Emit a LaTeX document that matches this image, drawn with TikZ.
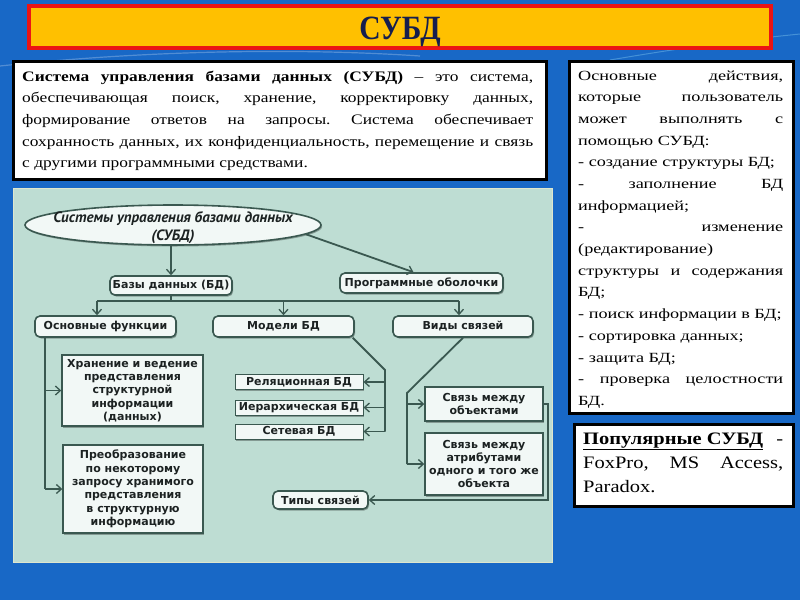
\documentclass[tikz,border=0pt]{standalone}
\usepackage{fontspec}
\usepackage{graphicx}
\setmainfont{Liberation Serif}
\newfontfamily\leftfont[FakeStretch=1.2]{Liberation Serif}
\newfontfamily\rightfont[FakeStretch=1.3]{Liberation Serif}
\newfontfamily\popfont[FakeStretch=1.17]{Liberation Serif}
\newfontfamily\titlefont[FakeStretch=0.87]{Liberation Serif}
\newfontfamily\djfont{DejaVu Sans}
\newfontfamily\ptfont{PT Sans}
\usetikzlibrary{arrows.meta,shapes.geometric,calc,shadows}
\frenchspacing
\definecolor{bgblue}{RGB}{24,104,198}
\definecolor{titlefill}{RGB}{255,192,0}
\definecolor{titlered}{RGB}{235,20,20}
\definecolor{titletext}{RGB}{22,30,78}
\definecolor{panel}{RGB}{190,221,211}
\definecolor{paneledge}{RGB}{222,230,205}
\definecolor{boxfill}{RGB}{242,248,246}
\definecolor{edge}{RGB}{58,88,80}
\definecolor{txt}{RGB}{28,34,34}
\tikzset{
  dfont/.style={font=\djfont\bfseries\fontsize{11pt}{13.3pt}\selectfont, text=txt},
  boxshadow/.style={drop shadow={shadow xshift=1.2pt, shadow yshift=-1.5pt, fill=black, opacity=0.3}},
  rbox/.style={dfont, draw=edge, line width=1.6pt, fill=boxfill, rounded corners=5pt, inner sep=0pt, align=center, boxshadow},
  sbox/.style={dfont, draw=edge, line width=1.4pt, fill=boxfill, inner sep=0pt, align=center, boxshadow},
  conn/.style={draw=edge, line width=1.8pt},
  arr/.style={conn, -{Straight Barb[length=5pt,width=9pt,line width=1.3pt]}},
  textbox/.style={draw=black, line width=3pt, fill=white, inner sep=0pt, anchor=north west},
}
\begin{document}
\begin{tikzpicture}[x=1pt,y=-1pt]
\useasboundingbox (0,0) rectangle (800,600);
\fill[bgblue] (0,0) rectangle (800,600);
\draw[white, opacity=0.25, line width=1.2pt] (0,66) .. controls (150,50) and (300,48) .. (420,56);
\draw[cyan!40, opacity=0.35, line width=1pt] (610,60) .. controls (680,48) and (740,40) .. (800,34);
% title
\node[draw=titlered, line width=4pt, fill=titlefill, minimum width=742pt, minimum height=42pt, inner sep=0pt] (title) at (400,27) {};
\node[anchor=base, inner sep=0pt, text=titletext, font=\titlefont\fontsize{34pt}{34pt}\selectfont\bfseries] (titlelabel) at (400,39.5) {СУБД};
% definition box
\node[textbox, minimum width=533pt, minimum height=118pt] (defbox) at (12,60) {};
\node[anchor=north west, inner sep=0pt, align=left, font=\leftfont\fontsize{14.5pt}{21.7pt}\selectfont] (deftext) at (22,70.5) {%
\makebox[511pt][s]{\textbf{Система управления базами данных (СУБД)} – это система,}\\
\makebox[511pt][s]{обеспечивающая поиск, хранение, корректировку данных,}\\
\makebox[511pt][s]{формирование ответов на запросы. Система обеспечивает}\\
\makebox[511pt][s]{сохранность данных, их конфиденциальность, перемещение и связь}\\
с другими программными средствами.};
% actions box
\node[textbox, minimum width=224pt, minimum height=352pt] (actbox) at (568,60) {};
\node[anchor=north west, inner sep=0pt, align=left, font=\rightfont\fontsize{14pt}{21.67pt}\selectfont] (acttext) at (578,70.5) {%
\makebox[205pt][s]{Основные действия,}\\
\makebox[205pt][s]{которые пользователь}\\
\makebox[205pt][s]{может выполнять с}\\
помощью СУБД:\\
- создание структуры БД;\\
\makebox[205pt][s]{- заполнение БД}\\
информацией;\\
\makebox[205pt][s]{- изменение}\\
(редактирование)\\
\makebox[205pt][s]{структуры и содержания}\\
БД;\\
- поиск информации в БД;\\
- сортировка данных;\\
- защита БД;\\
\makebox[205pt][s]{- проверка целостности}\\
БД.};
% popular box
\node[textbox, minimum width=219pt, minimum height=82pt] (popbox) at (573,423) {};
\node[anchor=north west, inner sep=0pt, align=left, font=\popfont\fontsize{17.5pt}{24pt}\selectfont] (poptext) at (583,432.5) {%
\makebox[200pt][s]{\underline{\textbf{Популярные СУБД}} -}\\
\makebox[200pt][s]{FoxPro, MS Access,}\\
Paradox.};
% diagram panel
\node[draw=paneledge, line width=1pt, fill=panel, minimum width=539pt, minimum height=374pt, inner sep=0pt, anchor=north west] (panel) at (13,188) {};
% diagram nodes
\node[ellipse, draw=edge, line width=1.6pt, fill=boxfill, minimum width=296pt, minimum height=40pt, inner sep=0pt, boxshadow] (ell) at (173,225) {};
\node[inner sep=0pt, align=center, text=txt, font=\ptfont\bfseries\itshape\fontsize{15pt}{18pt}\selectfont] (elltext) at (173,228)
      {Системы управления базами данных\\(СУБД)};
\node[rbox, minimum width=122pt, minimum height=19pt] (baz) at (171,285.5) {Базы данных (БД)};
\node[rbox, minimum width=163pt, minimum height=20pt] (prog) at (421.5,283) {Программные оболочки};
\node[rbox, minimum width=141pt, minimum height=21pt] (osn) at (105.5,326.5) {Основные функции};
\node[rbox, minimum width=141pt, minimum height=21pt] (mod) at (283.5,326.5) {Модели БД};
\node[rbox, minimum width=140pt, minimum height=21pt] (vid) at (463,326.5) {Виды связей};
\node[sbox, minimum width=141pt, minimum height=71pt] (xr) at (132.5,390.5)
  {Хранение и ведение\\представления\\структурной\\информации\\(данных)};
\node[sbox, minimum width=140pt, minimum height=88pt] (pr) at (133,489)
  {Преобразование\\по некоторому\\запросу хранимого\\представления\\в структурную\\информацию};
\node[sbox, line width=1pt, minimum width=128pt, minimum height=15pt] (rel) at (299,382) {Реляционная БД};
\node[sbox, line width=1pt, minimum width=128pt, minimum height=15pt] (ier) at (299,407.5) {Иерархическая БД};
\node[sbox, line width=1pt, minimum width=128pt, minimum height=15pt] (set) at (299,431.5) {Сетевая БД};
\node[sbox, minimum width=118pt, minimum height=34pt] (ob) at (484,404) {Связь между\\объектами};
\node[sbox, minimum width=118pt, minimum height=62pt] (at) at (484,464) {Связь между\\атрибутами\\одного и того же\\объекта};
\node[rbox, minimum width=95pt, minimum height=18pt] (typ) at (320.5,500) {Типы связей};
% connectors
\draw[arr] (baz.north |- ell.south) -- (baz.north);
\coordinate (pin) at ($(prog.north)+(-8,0)$);
\draw[arr] (ell.-4) -- (pin);
\coordinate (bl) at (97,301);
\coordinate (br) at (459,301);
\draw[conn] (baz.south) -- (baz.south |- bl);
\draw[conn] (bl) -- (br);
\draw[arr] (bl) -- (bl |- osn.north);
\draw[arr] (mod.north |- bl) -- (mod.north);
\draw[arr] (br) -- (br |- vid.north);
\coordinate (o1) at (45,0);
\draw[conn] (o1 |- osn.south) -- (o1 |- pr.west);
\draw[arr] (o1 |- xr.west) -- (xr.west);
\draw[arr] (o1 |- pr.west) -- (pr.west);
\coordinate (m0) at ($(mod.south east)+(-2,0)$);
\coordinate (m1) at (385,370);
\draw[conn] (m0) -- (m1) -- (m1 |- set.east);
\draw[arr] (m1 |- rel.east) -- (rel.east);
\draw[arr] (m1 |- ier.east) -- (ier.east);
\draw[arr] (m1 |- set.east) -- (set.east);
\coordinate (v1) at (407,393);
\draw[conn] (vid.south) -- (v1) -- (v1 |- at.west);
\draw[arr] (v1 |- ob.west) -- (ob.west);
\draw[arr] (v1 |- at.west) -- (at.west);
\coordinate (r1) at (548,0);
\draw[arr] (ob.east) -- (r1 |- ob.east) -- (r1 |- typ.east) -- (typ.east);
\end{tikzpicture}
\end{document}
